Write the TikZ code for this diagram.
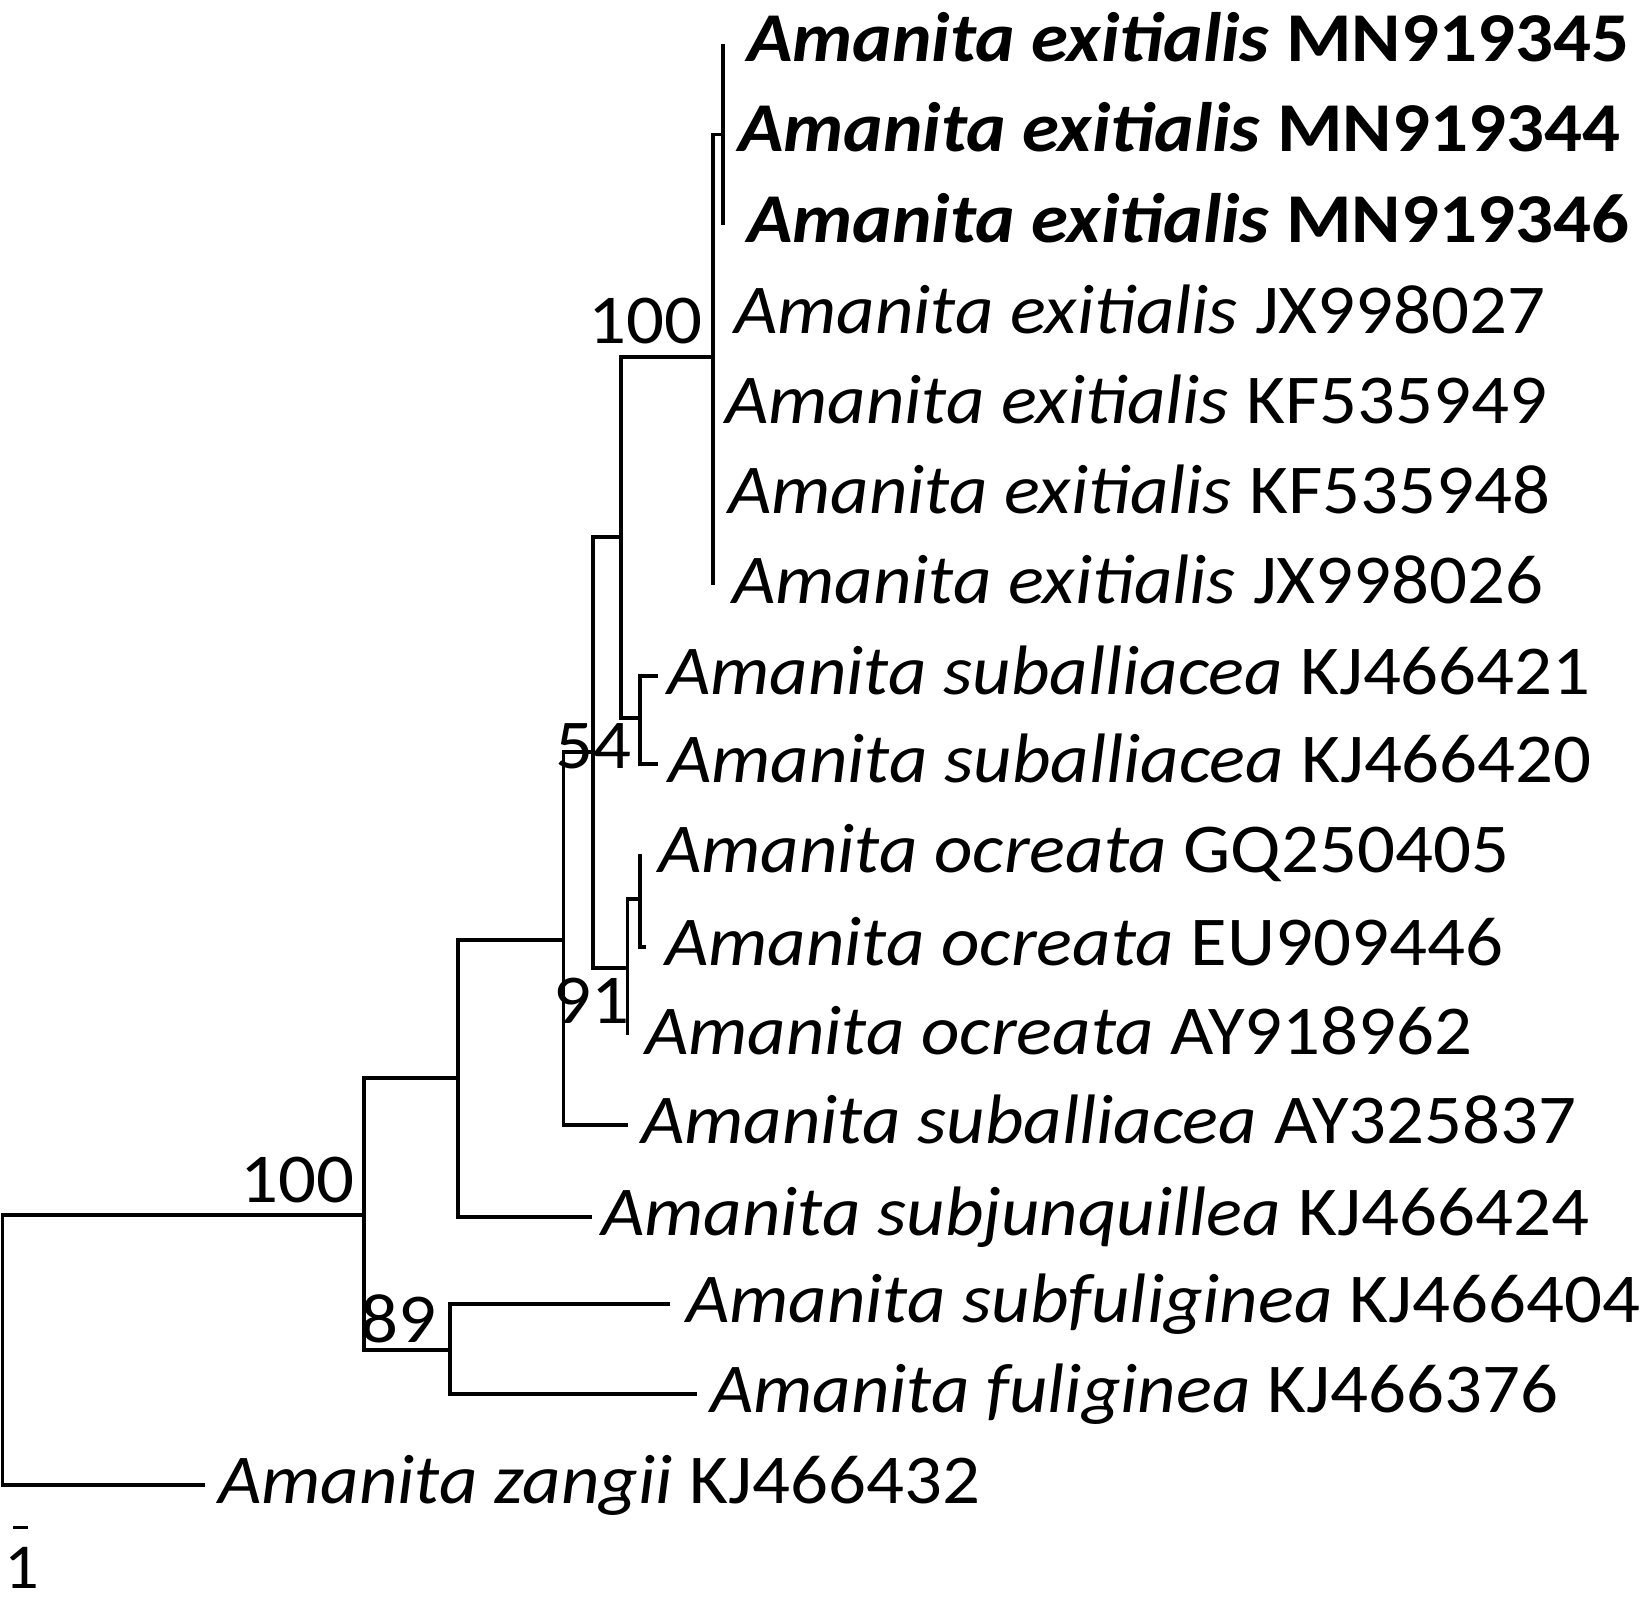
\documentclass[tikz,border=0pt]{standalone}
\usepackage{fontspec}
\setmainfont{Carlito}[FakeStretch=1.07]
\begin{document}
\begin{tikzpicture}[x=1pt,y=-1pt,
  br/.style={draw=black, line width=3.8pt, line cap=butt, line join=miter},
  leaf/.style={anchor=base west, inner sep=0pt, font=\fontsize{70}{84}\selectfont},
  bootlab/.style={anchor=base west, inner sep=0pt, font=\fontsize{70}{84}\selectfont},
  scalelab/.style={anchor=base west, inner sep=0pt, font=\fontsize{64}{76}\selectfont}]
\useasboundingbox (0,0) rectangle (1643,1613);
% leaves
\coordinate (L1) at (723,44);
\coordinate (L2) at (723,134.5);
\coordinate (L3) at (723,225);
\coordinate (L4) at (712.7,315);
\coordinate (L5) at (712.7,405);
\coordinate (L6) at (712.7,495);
\coordinate (L7) at (712.7,585);
\coordinate (L8) at (658,676);
\coordinate (L9) at (658,764);
\coordinate (L10) at (640,854);
\coordinate (L11) at (646,947);
\coordinate (L12) at (627.5,1035);
\coordinate (L13) at (628,1125);
\coordinate (L14) at (592,1217);
\coordinate (L15) at (670,1304);
\coordinate (L16) at (697,1394);
\coordinate (L17) at (205,1485);
% internal nodes
\coordinate (N1) at (723,134.5);
\coordinate (N2) at (712.7,357);
\coordinate (NS) at (640,718);
\coordinate (NA) at (621,537);
\coordinate (NO2) at (640,899);
\coordinate (NO) at (627.5,968);
\coordinate (NB) at (593,752);
\coordinate (NC) at (563.5,940);
\coordinate (ND) at (458,1078);
\coordinate (NF) at (450,1350);
\coordinate (NE) at (364,1215);
\coordinate (NR) at (2.5,1350);
% branches
\draw[br] (N1) |- (L1);
\draw[br] (N1) |- (L3);
\draw[br] (N2) |- (N1);
\draw[br] (N2) |- (L7);
\draw[br] (NS) |- (L8);
\draw[br] (NS) |- (L9);
\draw[br] (NA) |- (N2);
\draw[br] (NA) |- (NS);
\draw[br] (NO2) |- (L10);
\draw[br] (NO2) |- (L11);
\draw[br] (NO) |- (NO2);
\draw[br] (NO) |- (L12);
\draw[br] (NB) |- (NA);
\draw[br] (NB) |- (NO);
\draw[br] (NC) |- (NB);
\draw[br] (NC) |- (L13);
\draw[br] (ND) |- (NC);
\draw[br] (ND) |- (L14);
\draw[br] (NF) |- (L15);
\draw[br] (NF) |- (L16);
\draw[br] (NE) |- (ND);
\draw[br] (NE) |- (NF);
\draw[br] (NR) |- (NE);
\draw[br] (NR) |- (L17);
% labels
\node[leaf] (t1) at (747,62) {\textbf{\textit{Amanita exitialis} MN919345}};
\node[leaf] (t2) at (738,152) {\textbf{\textit{Amanita exitialis} MN919344}};
\node[leaf] (t3) at (747,243) {\textbf{\textit{Amanita exitialis} MN919346}};
\node[leaf] (t4) at (734,333) {\textit{Amanita exitialis} JX998027};
\node[leaf] (t5) at (725,423) {\textit{Amanita exitialis} KF535949};
\node[leaf] (t6) at (728,513) {\textit{Amanita exitialis} KF535948};
\node[leaf] (t7) at (732,603) {\textit{Amanita exitialis} JX998026};
\node[leaf] (t8) at (667,694) {\textit{Amanita suballiacea} KJ466421};
\node[leaf] (t9) at (668,782) {\textit{Amanita suballiacea} KJ466420};
\node[leaf] (t10) at (658,872) {\textit{Amanita ocreata} GQ250405};
\node[leaf] (t11) at (665,965) {\textit{Amanita ocreata} EU909446};
\node[leaf] (t12) at (645,1054) {\textit{Amanita ocreata} AY918962};
\node[leaf] (t13) at (641,1143) {\textit{Amanita suballiacea} AY325837};
\node[leaf] (t14) at (601,1235) {\textit{Amanita subjunquillea} KJ466424};
\node[leaf] (t15) at (686,1322) {\textit{Amanita subfuliginea} KJ466404};
\node[leaf] (t16) at (710,1412) {\textit{Amanita fuliginea} KJ466376};
\node[leaf] (t17) at (218,1503) {\textit{Amanita zangii} KJ466432};
% support values
\node[bootlab] (b1) at (588,343) {100};
\node[bootlab] (b2) at (555,768) {54};
\node[bootlab] (b3) at (553,1023) {91};
\node[bootlab] (b4) at (240,1202) {100};
\node[bootlab] (b5) at (360,1342) {89};
% scale bar
\coordinate (s1) at (13,1527);
\coordinate (s2) at (27.5,1527);
\draw[line width=3pt] (s1) -- (s2);
\node[scalelab] (sl) at (4,1588) {1};
\end{tikzpicture}
\end{document}
